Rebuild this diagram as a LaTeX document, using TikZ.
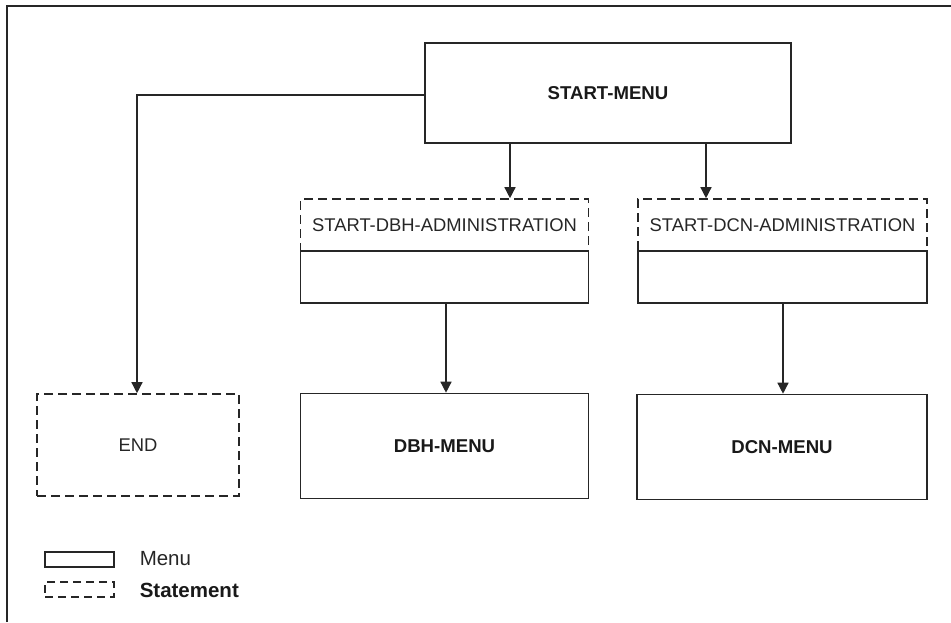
\documentclass[tikz,border=0pt]{standalone}
\usepackage{fontspec}
\setmainfont{Liberation Sans}
\usetikzlibrary{arrows.meta}
\begin{document}
\begin{tikzpicture}[x=1pt,y=-1pt,
  line width=1.5pt,
  menubox/.style={draw=black!85, line width=1.6pt},
  stmtbox/.style={draw=black!85, line width=1.6pt, dash pattern=on 9pt off 5pt},
  lbl/.style={font=\fontsize{18.4}{21}\selectfont, text=black!85},
  blbl/.style={font=\fontsize{18.6}{21}\selectfont\bfseries, text=black!90},
  arr/.style={draw=black!85, line width=1.4pt, -{Triangle[length=11pt,width=11pt]}},
  every node/.style={inner sep=0pt}]
\useasboundingbox (0,0) rectangle (951,622);
% frame
\draw[line width=1.8pt, black!85] (7,622) -- (7,6) -- (951,6);

% START-MENU
\node[menubox, minimum width=366pt, minimum height=100pt] (start) at (608,93) {};
\node[blbl] at (start.center) {START-MENU};

% DBH administration box
\node[stmtbox, minimum width=288pt, minimum height=52pt] (dbhadm) at (444.5,225) {};
\node[lbl] at (dbhadm.center) {START-DBH-ADMINISTRATION};
\node[menubox, minimum width=288pt, minimum height=52pt] (dbhsub) at (444.5,277) {};

% DCN administration box
\node[stmtbox, minimum width=289pt, minimum height=52pt] (dcnadm) at (782.5,225) {};
\node[lbl] at (dcnadm.center) {START-DCN-ADMINISTRATION};
\node[menubox, minimum width=289pt, minimum height=52pt] (dcnsub) at (782.5,277) {};

% bottom row
\node[stmtbox, minimum width=202pt, minimum height=102pt] (end) at (138,445) {};
\node[lbl] at (end.center) {END};
\node[menubox, minimum width=288pt, minimum height=105pt] (dbhmenu) at (444.5,446) {};
\node[blbl] at (dbhmenu.center) {DBH-MENU};
\node[menubox, minimum width=290pt, minimum height=105pt] (dcnmenu) at (782,447) {};
\node[blbl] at (dcnmenu.center) {DCN-MENU};

% connectors
\coordinate (corner) at (137,95);
\draw[arr] (start.west |- corner) -- (corner) -- (corner |- end.north);
\draw[arr] (start.south -| 510,0) -- (510,0 |- dbhadm.north);
\draw[arr] (start.south -| 706,0) -- (706,0 |- dcnadm.north);
\draw[arr] (dbhsub.south -| 446,0) -- (446,0 |- dbhmenu.north);
\draw[arr] (dcnsub.south -| 783,0) -- (783,0 |- dcnmenu.north);

% legend
\node[menubox, line width=1.3pt, minimum width=69pt, minimum height=15pt] (lgm) at (79.5,559.5) {};
\node[menubox, line width=1.3pt, dash pattern=on 8pt off 5pt, minimum width=69pt, minimum height=15pt] (lgs) at (79.5,589.5) {};
\node[anchor=west, font=\fontsize{20.5}{22}\selectfont, text=black!85] at (139,559) {Menu};
\node[anchor=west, font=\fontsize{20.5}{22}\selectfont\bfseries, text=black!90] at (139,590) {Statement};
\end{tikzpicture}
\end{document}
